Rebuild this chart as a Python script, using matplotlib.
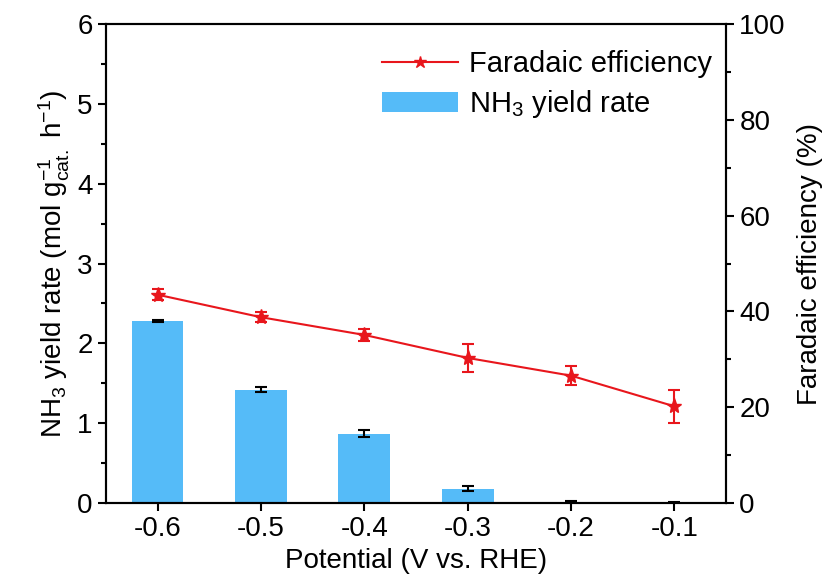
import matplotlib.pyplot as plt
import matplotlib as mpl
from matplotlib.lines import Line2D

mpl.rcParams['font.family'] = ['Liberation Sans', 'DejaVu Sans']
mpl.rcParams['mathtext.fontset'] = 'custom'
mpl.rcParams['mathtext.rm'] = 'Liberation Sans'
mpl.rcParams['mathtext.it'] = 'Liberation Sans:italic'
mpl.rcParams['mathtext.default'] = 'regular'

# data
potential = [-0.6, -0.5, -0.4, -0.3, -0.2, -0.1]
yield_rate = [2.28, 1.42, 0.87, 0.18, 0.02, 0.01]
yield_err = [0.01, 0.03, 0.04, 0.03, 0.01, 0.01]
fe = [43.5, 38.8, 35.1, 30.3, 26.6, 20.2]
fe_err = [1.2, 1.0, 1.2, 3.0, 2.0, 3.4]

red = '#e8161c'
blue = '#55bbf8'

fig = plt.figure(figsize=(8.27, 5.85), dpi=100)
ax = fig.add_axes([0.128, 0.140, 0.750, 0.819])
ax2 = ax.twinx()

bars = ax.bar(potential, yield_rate, width=0.05, color=blue, yerr=yield_err,
              capsize=4, error_kw=dict(ecolor='black', elinewidth=1.5, capthick=1.5))
ax2.errorbar(potential, fe, yerr=fe_err, color=red, marker='*', markersize=11,
             linewidth=1.5, capsize=4, elinewidth=1.5, capthick=1.5)

ax.set_xlim(-0.65, -0.05)
ax.set_ylim(0, 6)
ax2.set_ylim(0, 100)
ax.set_xticks(potential)
ax.set_xticklabels(['-0.6', '-0.5', '-0.4', '-0.3', '-0.2', '-0.1'])
ax.set_yticks(range(7))
ax.set_yticks([0.5 + i for i in range(6)], minor=True)
ax2.set_yticks([0, 20, 40, 60, 80, 100])
ax2.set_yticks([10, 30, 50, 70, 90], minor=True)

for a in (ax, ax2):
    a.tick_params(labelsize=20, width=1.5, length=6, direction='out')
    a.tick_params(which='minor', width=1.5, length=3.5)
    for s in a.spines.values():
        s.set_linewidth(1.5)

ax.set_xlabel('Potential (V vs. RHE)', fontsize=20)
ax.set_ylabel('NH$_3$ yield rate (mol g$_{cat.}^{-1}$ h$^{-1}$)', fontsize=20)
ax2.set_ylabel('Faradaic efficiency (%)', fontsize=20, labelpad=8)

fe_handle = Line2D([], [], color=red, marker='*', markersize=9, linewidth=1.5)
ax2.legend([fe_handle, bars], ['Faradaic efficiency', 'NH$_3$ yield rate'],
           loc='upper right', bbox_to_anchor=(1.02, 1.0), frameon=False,
           fontsize=21, handlelength=2.6, handletextpad=0.4, labelspacing=0.35)

plt.savefig('out.png', dpi=100)
